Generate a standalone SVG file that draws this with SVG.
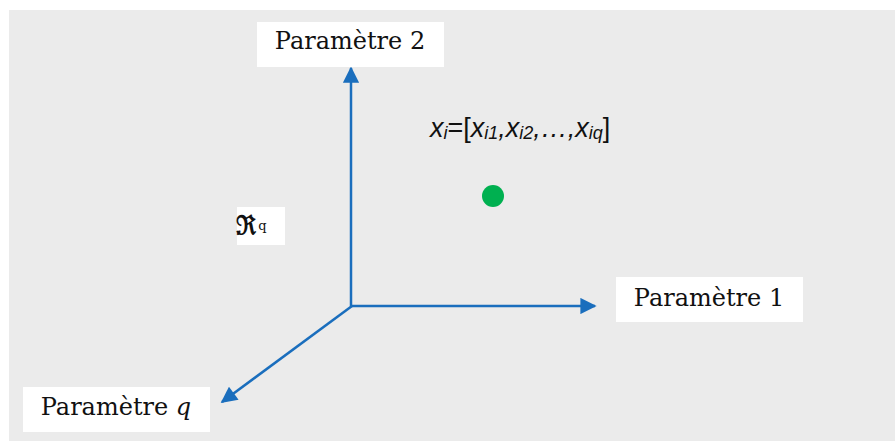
<svg xmlns="http://www.w3.org/2000/svg" width="895" height="441" viewBox="0 0 895 441">
<defs>
<style>
.lbl{fill:#ffffff}
.ser{font-family:"DejaVu Serif","Liberation Serif",serif;font-size:24px;fill:#111}
.ax{stroke:#1a6ebd;stroke-width:2.5;fill:none}
.f{font-family:"Liberation Sans","Noto Sans",sans-serif;font-style:italic;fill:#111}
</style>
<marker id="ah" viewBox="0 0 10 10" refX="9" refY="5" markerWidth="7" markerHeight="6.5" markerUnits="strokeWidth" orient="auto">
<path d="M0,0 L10,5 L0,10 z" fill="#1a6ebd"/>
</marker>
</defs>
<rect x="9" y="10" width="886" height="431" fill="#ebebeb"/>
<g id="connectors">
<line class="ax" x1="351" y1="306" x2="351" y2="68" marker-end="url(#ah)"/>
<line class="ax" x1="351" y1="306" x2="595" y2="306" marker-end="url(#ah)"/>
<line class="ax" x1="352" y1="306" x2="222" y2="402" marker-end="url(#ah)"/>
</g>
<g id="param2">
<rect class="lbl" x="257" y="22" width="187" height="45"/>
<text class="ser" x="350" y="49" text-anchor="middle">Paramètre 2</text>
</g>
<g id="param1">
<rect class="lbl" x="616" y="277" width="187" height="45"/>
<text class="ser" x="709" y="306" text-anchor="middle">Paramètre 1</text>
</g>
<g id="paramq">
<rect class="lbl" x="23" y="387" width="187" height="45"/>
<text class="ser" x="116" y="415" text-anchor="middle">Paramètre <tspan font-style="italic">q</tspan></text>
</g>
<g id="space">
<rect class="lbl" x="237" y="207" width="48" height="38"/>
<text x="236" y="234" font-family="'Noto Sans Math','DejaVu Sans','Noto Sans',serif" font-size="26" font-weight="bold" fill="#111">ℜ<tspan font-family="DejaVu Serif,serif" font-weight="normal" font-size="13" dy="-4" dx="2">q</tspan></text>
</g>
<g id="point">
<circle cx="493" cy="196" r="11" fill="#00b050"/>
</g>
<g id="formula">
<text class="f" x="430" y="137" font-size="27">x<tspan font-size="18" dy="2">i</tspan><tspan font-style="normal" dy="-2">=[</tspan>x<tspan font-size="18" dy="2">i1</tspan><tspan dy="-2">,</tspan>x<tspan font-size="18" dy="2">i2</tspan><tspan dy="-2">,…,</tspan>x<tspan font-size="18" dy="2">iq</tspan><tspan font-style="normal" dy="-2">]</tspan></text>
</g>
</svg>
